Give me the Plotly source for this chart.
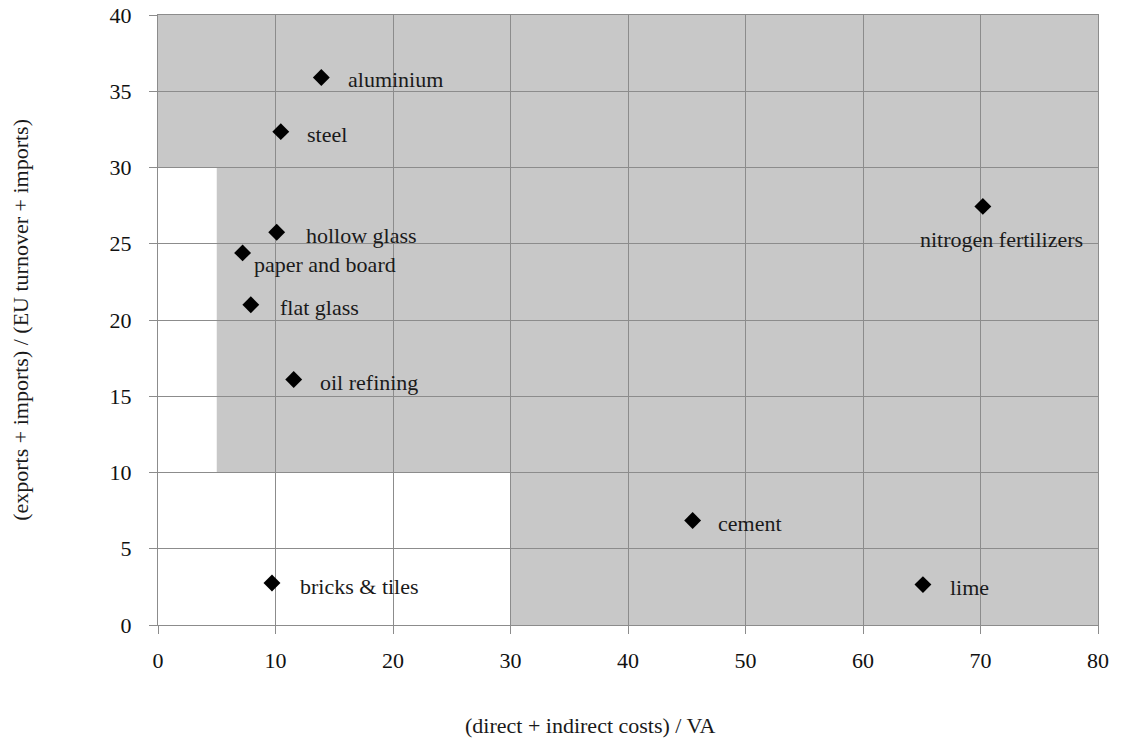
import plotly.graph_objects as go

sectors = ["aluminium", "steel", "hollow glass", "paper and board", "flat glass",
           "oil refining", "nitrogen fertilizers", "cement", "lime", "bricks & tiles"]
cost_share = [13.9, 10.45, 10.1, 7.2, 7.9, 11.55, 70.2, 45.5, 65.1, 9.7]
trade_intensity = [35.9, 32.35, 25.75, 24.4, 21.0, 16.1, 27.45, 6.85, 2.65, 2.75]

# label offsets in px (xshift, yshift, anchor)
label_pos = {
    "aluminium": (25, -2, "left"),
    "steel": (24, -3, "left"),
    "hollow glass": (27, -3, "left"),
    "paper and board": (9, -12, "left"),
    "flat glass": (27, -3, "left"),
    "oil refining": (24, -3, "left"),
    "nitrogen fertilizers": (19, -33, "center"),
    "cement": (23, -3, "left"),
    "lime": (25, -3, "left"),
    "bricks & tiles": (26, -3, "left"),
}

FONT = "Liberation Serif, Times New Roman, serif"
GRAY = "#c8c8c8"
GRID = "#8c8c8c"
TXT = "#1a1a1a"

fig = go.Figure()
fig.add_trace(go.Scatter(
    x=cost_share, y=trade_intensity, mode="markers",
    marker=dict(symbol="diamond", size=13, color="black"),
    hoverinfo="text", text=sectors, showlegend=False,
))

# shaded zones (gray everywhere except low cost / low trade corner)
for x0, x1, y0, y1 in [(0, 80, 30, 40), (5, 80, 10, 30), (30, 80, 0, 10)]:
    fig.add_shape(type="rect", xref="x", yref="y", x0=x0, x1=x1, y0=y0, y1=y1,
                  fillcolor=GRAY, line_width=0, layer="below")

for name, xv, yv in zip(sectors, cost_share, trade_intensity):
    dx, dy, anc = label_pos[name]
    fig.add_annotation(x=xv, y=yv, text=name, showarrow=False,
                       xanchor=anc, yanchor="middle", xshift=dx, yshift=dy,
                       font=dict(family=FONT, size=22, color=TXT))

fig.add_annotation(xref="paper", yref="paper", x=0.46, y=-0.165,
                   xanchor="center", yanchor="middle",
                   text="(direct + indirect costs) / VA", showarrow=False,
                   font=dict(family=FONT, size=22, color=TXT))
fig.add_annotation(xref="paper", yref="paper", x=-0.147, y=0.5, textangle=-90,
                   xanchor="center", yanchor="middle",
                   text="(exports + imports) / (EU turnover + imports)", showarrow=False,
                   font=dict(family=FONT, size=22, color=TXT))

axis_common = dict(showgrid=True, gridcolor=GRID, gridwidth=1, zeroline=False,
                   showline=True, linecolor=GRID, linewidth=1, mirror=True,
                   ticks="outside", ticklen=8, tickcolor=GRID, automargin=False,
                   tickfont=dict(family=FONT, size=22, color="#111"))

fig.update_xaxes(range=[0, 80], dtick=10, tick0=0, ticklabelstandoff=8, **axis_common)
fig.update_yaxes(range=[0, 40], dtick=5, tick0=0, ticklabelstandoff=13, **axis_common)

fig.update_layout(
    width=1121, height=738,
    margin=dict(l=158, r=23, t=15, b=113),
    paper_bgcolor="white", plot_bgcolor="white",
)

# drop the default 8px body margin so the figure fills the window
fig.write_html("out.html", config={"displayModeBar": False},
               post_script="document.body.style.margin='0';")
